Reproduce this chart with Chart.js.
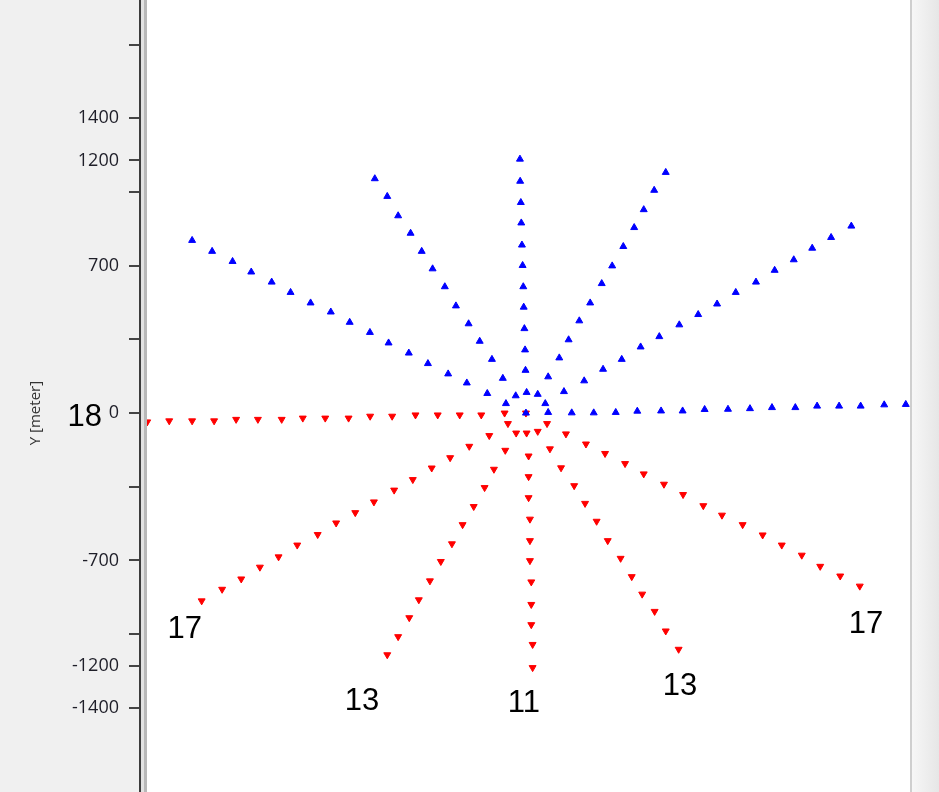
<!DOCTYPE html>
<html><head><meta charset="utf-8">
<script src="https://cdn.jsdelivr.net/npm/chart.js@4/dist/chart.umd.min.js"></script>
<style>html,body{margin:0;padding:0;background:#fff}#w{width:939px;height:792px}</style>
</head><body><div id="w"><canvas id="c"></canvas></div>
<script>
// Blue (upward) rays, meters
const blueX = [0,
 -1502,-1412,-1320,-1236,-1144,-1059,-969,-878,-793,-702,-618,-527,-441,-350,-266,-174,-90,
 -680,-624,-575,-519,-469,-420,-365,-315,-258,-208,-153,-104,-46,
 -27,-26,-23,-21,-18,-15,-12,-10,-7,-4,-2,3,
 629,577,530,487,438,388,341,289,240,192,150,100,53,
 1464,1373,1288,1205,1119,1035,944,860,775,690,600,516,431,347,262,171,87,
 100,206,305,404,501,608,705,804,909,1008,1107,1212,1310,1409,1506,1612,1709];
const blueY = [0,
 820,768,720,670,622,573,523,480,431,383,333,285,235,186,143,93,45,
 1113,1029,937,854,768,685,600,509,424,341,255,165,82,
 1206,1101,1000,903,798,701,600,503,401,300,203,98,
 1143,1058,966,881,791,699,615,523,438,348,262,172,89,
 888,834,783,728,678,622,573,518,468,419,363,314,255,208,153,102,45,
 3,1,1,3,9,10,10,17,18,21,26,26,33,33,33,39,41];
// Red (downward) rays, meters
const redX = [0,
 -1704,-1605,-1502,-1403,-1304,-1206,-1099,-1004,-903,-798,-701,-602,-497,-397,-298,-201,-96,
 -1459,-1367,-1281,-1197,-1113,-1029,-937,-854,-768,-684,-593,-509,-424,-341,-255,-165,-81,
 -624,-575,-525,-482,-432,-383,-333,-285,-235,-186,-144,-93,-44,
 3,12,12,12,18,18,18,24,24,24,30,30,
 53,108,158,217,266,318,368,426,476,523,579,629,687,
 95,180,270,356,446,530,621,707,798,882,975,1065,1151,1241,1324,1414,1502];
const redY = [0,
 -42,-37,-37,-37,-30,-30,-30,-24,-24,-24,-15,-15,-9,-9,-9,-9,0,
 -892,-837,-788,-732,-683,-627,-577,-522,-473,-422,-366,-316,-261,-212,-158,-107,-50,
 -1148,-1062,-972,-887,-797,-705,-621,-530,-444,-354,-267,-177,-95,
 -95,-204,-302,-402,-504,-606,-701,-802,-909,-1005,-1099,-1209,
 -87,-170,-260,-345,-429,-514,-606,-690,-777,-860,-942,-1035,-1122,
 -50,-99,-147,-192,-240,-289,-338,-387,-440,-485,-530,-579,-627,-675,-728,-774,-822];
const yTicks = [-1400,-1200,-1050,-700,-350,0,350,700,1050,1200,1400,1750];
const yLabeled = [-1400,-1200,-700,0,700,1200,1400];
const noteText = ['17','13','11','13','17'];
const noteX = [-1535,-738,-9,693,1530];
const noteY = [-1030,-1368,-1377,-1300,-1003];

const pts = (xs, ys) => xs.map((x, i) => ({x, y: ys[i]}));

const deco = {
  id: 'deco',
  beforeDraw(ch) {
    const c = ch.ctx, a = ch.chartArea;
    c.save();
    c.fillStyle = '#f0f0f0';
    c.fillRect(0, 0, a.left, ch.height);
    const g = c.createLinearGradient(a.right, 0, ch.width, 0);
    g.addColorStop(0, '#f8f8f8'); g.addColorStop(1, '#e6e6e6');
    c.fillStyle = g;
    c.fillRect(a.right, 0, ch.width - a.right, ch.height);
    c.fillStyle = '#ffffff';
    c.fillRect(a.left, 0, a.right - a.left, ch.height);
    c.restore();
  },
  afterDraw(ch) {
    const c = ch.ctx, a = ch.chartArea, sx = ch.scales.x, sy = ch.scales.y;
    c.save();
    c.fillStyle = '#3c3c3c'; c.fillRect(a.left - 2, 0, 2, ch.height);
    c.fillStyle = '#e2e2e2'; c.fillRect(a.left, 0, 3, ch.height);
    c.fillStyle = '#b8b8b8'; c.fillRect(a.left + 3, 0, 3, ch.height);
    c.fillStyle = '#cfcfcf'; c.fillRect(a.right, 0, 2, ch.height);
    c.fillStyle = '#000';
    c.font = '31px "Liberation Sans", Arial, sans-serif';
    c.textAlign = 'center'; c.textBaseline = 'middle';
    noteText.forEach((t, i) => c.fillText(t, sx.getPixelForValue(noteX[i]), sy.getPixelForValue(noteY[i])));
    c.textAlign = 'right';
    c.fillText('18', 102, sy.getPixelForValue(0) + 4);
    c.translate(36, sy.getPixelForValue(0));
    c.rotate(-Math.PI / 2);
    c.textAlign = 'center';
    c.fillStyle = '#333';
    c.font = '15px "Open Sans", sans-serif';
    c.fillText('Y [meter]', 0, 0);
    c.restore();
  }
};

new Chart(document.getElementById('c'), {
  type: 'scatter',
  data: { datasets: [
    { data: pts(blueX, blueY), pointStyle: 'triangle', radius: 4, backgroundColor: '#0000ff', borderColor: '#0000ff', borderWidth: 1 },
    { data: pts(redX, redY), pointStyle: 'triangle', rotation: 180, radius: 4, backgroundColor: '#ff0000', borderColor: '#ff0000', borderWidth: 1 }
  ]},
  options: {
    responsive: true, maintainAspectRatio: false, animation: false,
    layout: { padding: { left: 0, right: 29, top: 0, bottom: 0 } },
    plugins: { legend: { display: false }, tooltip: { enabled: false } },
    scales: {
      x: { type: 'linear', display: false, min: -1732, max: 1728 },
      y: {
        type: 'linear', min: -1701, max: 1863,
        afterFit(s) { s.width = 141; },
        afterBuildTicks(s) { s.ticks = yTicks.map(v => ({ value: v })); },
        border: { display: false },
        grid: { drawOnChartArea: false, drawTicks: true, tickLength: 12, tickColor: '#444', lineWidth: 2 },
        ticks: {
          padding: 10, color: '#1e1e28',
          font: { family: '"Open Sans", sans-serif', size: 18 },
          callback: v => yLabeled.includes(v) ? String(v) : ''
        }
      }
    }
  },
  plugins: [deco]
});
</script></body></html>
